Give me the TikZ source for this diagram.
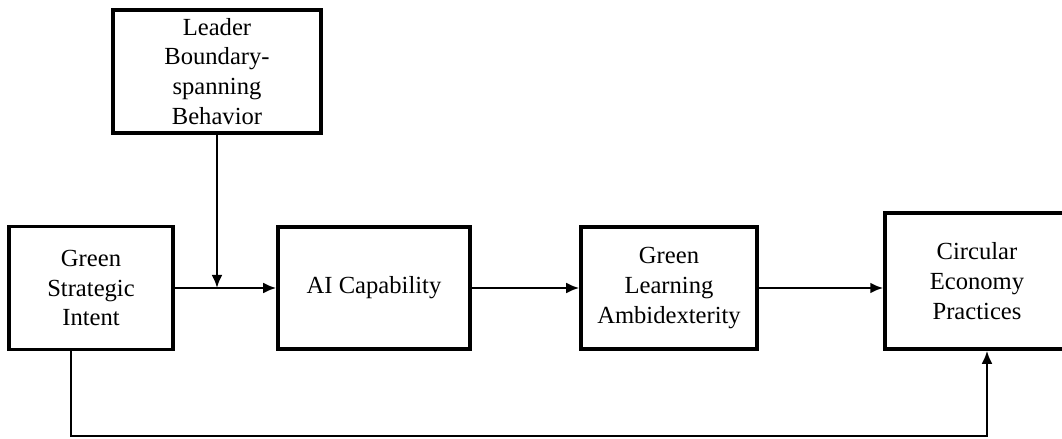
\documentclass[tikz,border=0pt]{standalone}
\usepackage{fontspec}
\setmainfont{Liberation Serif}
\usepackage{tikz}
\usetikzlibrary{arrows.meta, positioning}

\begin{document}
\begin{tikzpicture}[
    box/.style={draw, rectangle, line width=2pt, align=center, font=\fontsize{14}{17}\selectfont},
    arr/.style={-{Latex[length=2.6mm, width=2.2mm]}, line width=1.7pt}
  ]

    \useasboundingbox (0,0) rectangle (21.24,8.78);

    % Nodes for the constructs
    \node (leader) [box, minimum width=4.16cm, minimum height=2.46cm] at (4.34,7.35) {Leader\\Boundary-\\spanning\\Behavior};
    \node (greenSI) [box, minimum width=3.28cm, minimum height=2.46cm] at (1.82,3.02) {Green\\Strategic\\Intent};
    \node (aiCap) [box, minimum width=3.84cm, minimum height=2.44cm] at (7.48,3.02) {AI Capability};
    \node (greenLA) [box, minimum width=3.52cm, minimum height=2.44cm] at (13.38,3.02) {Green\\Learning\\Ambidexterity};
    \node (circEP) [box, minimum width=3.68cm, minimum height=2.72cm] at (19.54,3.16) {Circular\\Economy\\Practices};

    % Main path
    \draw[arr] (greenSI) -- (aiCap);
    \draw[arr] (aiCap) -- (greenLA);
    \draw[arr] (greenLA) -- (greenLA.east -| circEP.west);

    % Moderator arrow onto the first path
    \coordinate (mod) at (leader.south |- aiCap.west);
    \draw[arr] (leader) -- (mod);

    % Direct path below
    \coordinate (low) at (0,0.06);
    \draw[arr, line width=1.4pt] ([xshift=-0.4cm]greenSI.south) -- ([xshift=-0.4cm]greenSI.south |- low) -| ([xshift=0.2cm]circEP.south);

\end{tikzpicture}
\end{document}
